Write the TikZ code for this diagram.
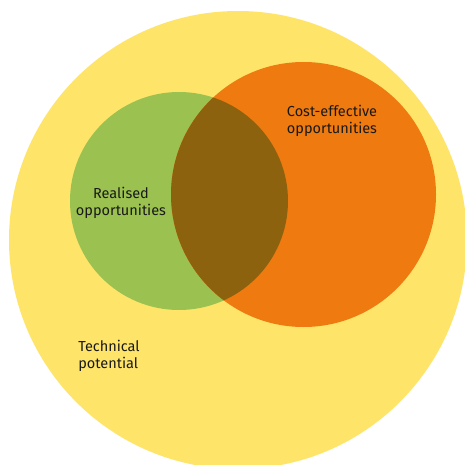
\documentclass[tikz,border=0pt]{standalone}
\usepackage{fontspec}
\setmainfont{Fira Sans}
\definecolor{techyellow}{RGB}{254,229,106}
\definecolor{realgreen}{RGB}{155,194,80}
\definecolor{costorange}{RGB}{239,122,16}
\definecolor{overlapbrown}{RGB}{141,98,14}
\tikzset{
  venn label/.style={font=\fontsize{14.5}{17.5}\selectfont, text=black!90, inner sep=0pt}
}
\begin{document}
\begin{tikzpicture}[x=1pt,y=-1pt]
  \useasboundingbox (0,0) rectangle (465,465);
  \clip (0,0) rectangle (465,465);
  \fill[white] (0,0) rectangle (465,465);
  \fill[techyellow] (238,240) circle[radius=229pt];
  \fill[realgreen] (179,201) circle[radius=109pt];
  \fill[costorange] (303.5,194.5) circle[radius=132.5pt];
  \begin{scope}
    \clip (179,201) circle[radius=109pt];
    \fill[overlapbrown] (303.5,194.5) circle[radius=132.5pt];
  \end{scope}
  \node[venn label, align=center] (realised) at (121,203) {Realised\\opportunities};
  \node[venn label, align=center] (costeff) at (332,121) {Cost-effective\\opportunities};
  \node[venn label, align=left] (technical) at (109,356) {Technical\\potential};
\end{tikzpicture}
\end{document}
